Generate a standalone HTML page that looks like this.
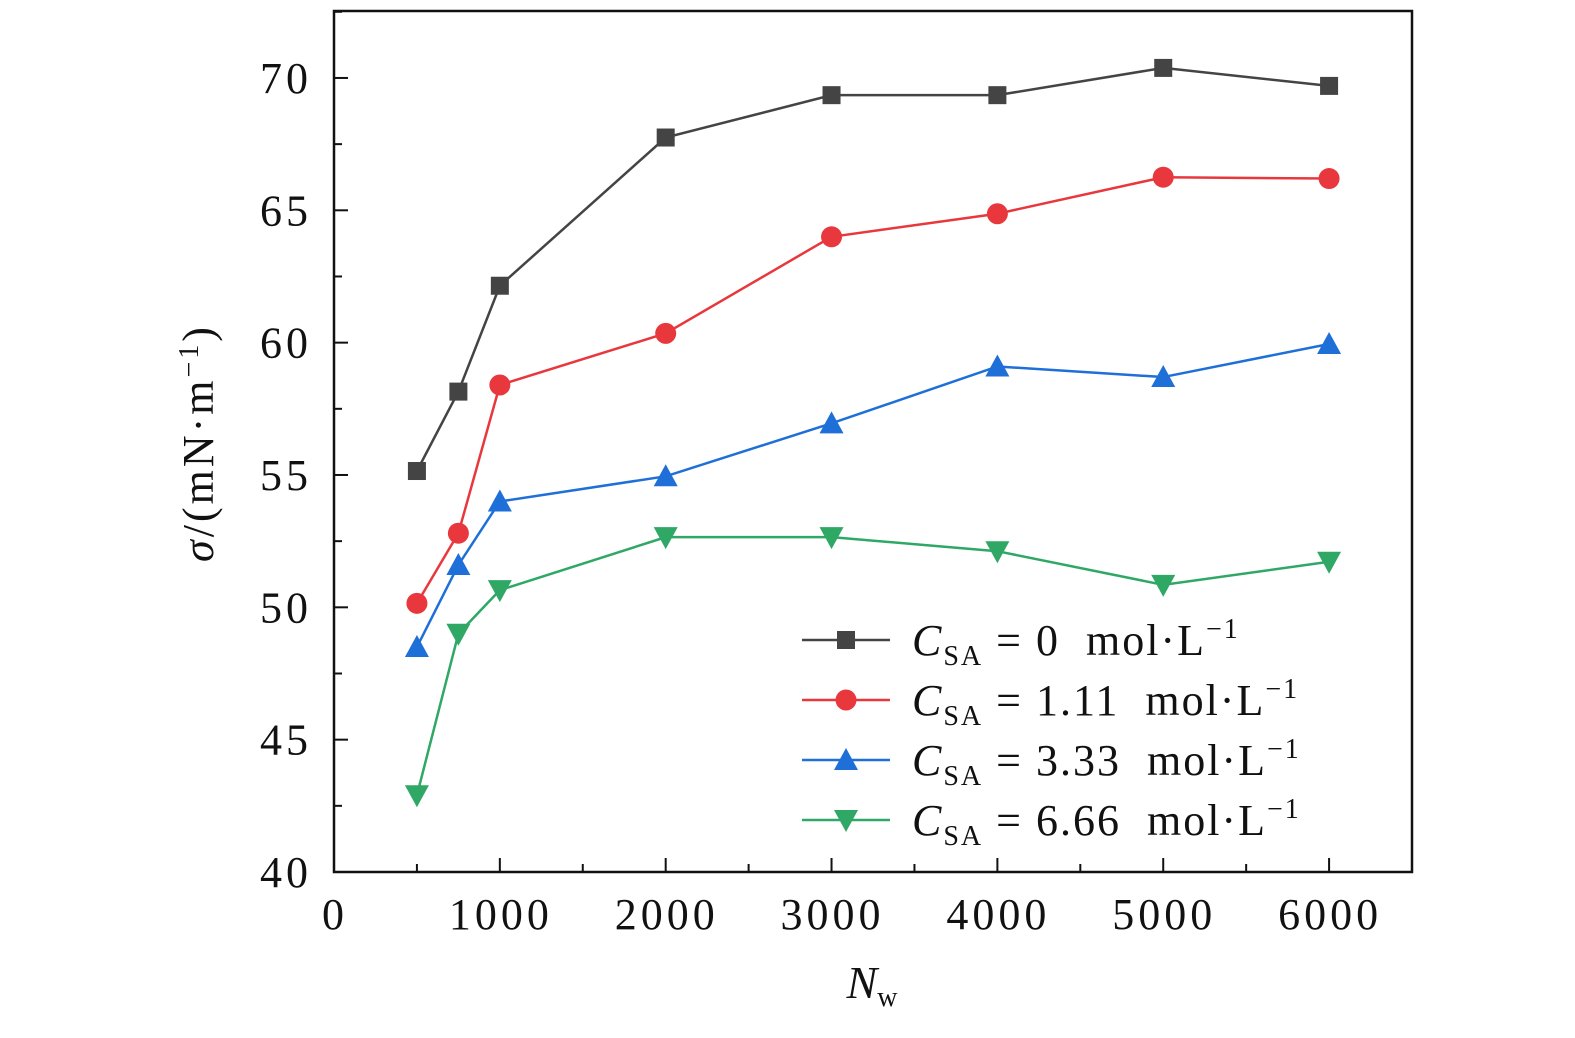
<!DOCTYPE html>
<html><head><meta charset="utf-8"><style>
body{margin:0;background:#fff;}
svg text{font-family:"Liberation Serif",serif;fill:#111;}
</style></head><body>
<svg id="chart" width="1575" height="1033" xmlns="http://www.w3.org/2000/svg">
<g id="axes"></g><g id="series"></g><g id="legend"></g>
</svg>
<script>
const xCats=[500,750,1000,2000,3000,4000,5000,6000];
const s0=[55.15,58.15,62.15,67.75,69.35,69.35,70.38,69.7];
const s1=[50.15,52.8,58.4,60.35,64.0,64.87,66.25,66.2];
const s2=[48.5,51.6,54.0,54.95,56.95,59.1,58.7,59.95];
const s3=[42.9,49.0,50.65,52.65,52.65,52.12,50.85,51.72];
const xTicks=[0,1000,2000,3000,4000,5000,6000];
const yTicks=[40,45,50,55,60,65,70];
const labels=["0","1.11","3.33","6.66"];
const colors=["#444444","#e8383d","#1f6fd8","#2fa866"];
const markers=["square","circle","up","down"];
const NS="http://www.w3.org/2000/svg";
const L=334,R=1412,T=11,B=872;
const X=v=>L+(v/6500)*(R-L);
const Y=v=>B-(v-40)/(72.53-40)*(B-T);
function el(t,a,p){const e=document.createElementNS(NS,t);for(const k in a)e.setAttribute(k,a[k]);p.appendChild(e);return e;}
const ax=document.getElementById('axes');
const frame=el('rect',{x:L,y:T,width:R-L,height:B-T,fill:'none',stroke:'#111','stroke-width':2.5},ax);


for(let v=0;v<=6500;v+=500){const big=v%1000===0;const t=el('line',{x1:X(v),x2:X(v),y1:B,y2:B-(big?14:8),stroke:'#111','stroke-width':2},ax);

}
xTicks.forEach(v=>{const t=el('text',{x:X(v)+1,y:929,'font-size':44,'letter-spacing':4,'text-anchor':'middle'},ax);t.textContent=v;

});
for(let v=40;v<=72.5;v+=2.5){const big=v%5===0;const t=el('line',{x1:L,x2:L+(big?14:8),y1:Y(v),y2:Y(v),stroke:'#111','stroke-width':2},ax);

}
yTicks.forEach(v=>{const t=el('text',{x:312,y:Y(v)+15,'font-size':44,'letter-spacing':4,'text-anchor':'end'},ax);t.textContent=v;

});
const yl=el('text',{transform:'translate(213,443) rotate(-90)','font-size':44,'letter-spacing':3,'text-anchor':'middle'},ax);
yl.innerHTML='<tspan font-style="italic">σ</tspan>/(mN·m<tspan baseline-shift="super" font-size="28">−1</tspan>)';


const xl=el('text',{x:872,y:998,'font-size':46,'text-anchor':'middle'},ax);
xl.innerHTML='<tspan font-style="italic">N</tspan><tspan font-size="28" dy="8">w</tspan>';


function marker(g,type,x,y,c){
 if(type==='square')return el('rect',{x:x-9,y:y-9,width:18,height:18,fill:c},g);
 if(type==='circle')return el('circle',{cx:x,cy:y,r:10.5,fill:c},g);
 if(type==='up')return el('polygon',{points:`${x},${y-12} ${x-12},${y+10} ${x+12},${y+10}`,fill:c},g);
 return el('polygon',{points:`${x},${y+12} ${x-12},${y-10} ${x+12},${y-10}`,fill:c},g);
}
const sg=document.getElementById('series');
[s0,s1,s2,s3].forEach((s,i)=>{
 const g=el('g',{},sg);
 
 
 const p=el('polyline',{points:s.map((v,j)=>X(xCats[j])+','+Y(v)).join(' '),fill:'none',stroke:colors[i],'stroke-width':2.5},g);
 
 
 s.forEach((v,j)=>{const m=marker(g,markers[i],X(xCats[j]),Y(v),colors[i]);
 
 });
});
const lg=document.getElementById('legend');
labels.forEach((lab,i)=>{
 const y=640+i*60;
 const g=el('g',{},lg);
 
 
 el('line',{x1:802,x2:890,y1:y,y2:y,stroke:colors[i],'stroke-width':2.5},g);
 marker(g,markers[i],846,y,colors[i]);
 const t=el('text',{x:912,y:y+15,'font-size':44,'letter-spacing':2,'xml:space':'preserve'},g);
 t.innerHTML=`<tspan font-style="italic">C</tspan><tspan font-size="28" dy="10">SA</tspan><tspan dy="-10" style="white-space:pre"> = ${lab}  mol·L</tspan><tspan font-size="28" dy="-17">−1</tspan>`;
});
</script>
</body></html>
